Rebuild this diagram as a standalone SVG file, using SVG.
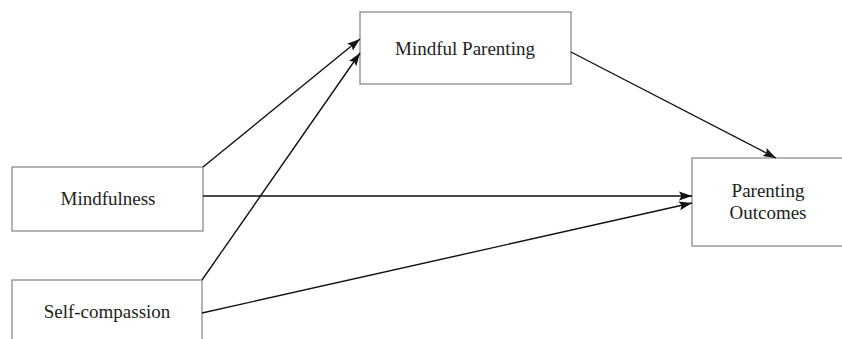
<svg xmlns="http://www.w3.org/2000/svg" width="842" height="339" viewBox="0 0 842 339">
<style>
.box{fill:#fff;stroke:#9a9a9a;stroke-width:1.5}
.lbl{font-family:"Liberation Serif","Times New Roman",serif;font-size:19px;fill:#222;text-anchor:middle}
.edge{stroke:#111;stroke-width:1.4;fill:none;marker-end:url(#ah)}
</style>
<defs>
<marker id="ah" markerUnits="userSpaceOnUse" markerWidth="14" markerHeight="10" refX="13" refY="5" orient="auto">
<path d="M0,0.5 L13,5 L0,9.5 L2.5,5 Z" fill="#111"/>
</marker>
</defs>
<rect width="842" height="339" fill="#fff"/>
<g id="mindful-parenting"><rect class="box" x="360" y="12" width="211" height="72"/><text class="lbl" x="465" y="55">Mindful Parenting</text></g>
<g id="mindfulness"><rect class="box" x="12" y="167" width="191" height="64"/><text class="lbl" x="108" y="205">Mindfulness</text></g>
<g id="self-compassion"><rect class="box" x="12" y="280" width="190" height="70"/><text class="lbl" x="107" y="318">Self-compassion</text></g>
<g id="parenting-outcomes"><rect class="box" x="692" y="158" width="160" height="88"/><text class="lbl" x="768" y="197">Parenting</text><text class="lbl" x="768" y="219">Outcomes</text></g>
<g id="connectors">
<line class="edge" x1="203" y1="167" x2="360" y2="39"/>
<line class="edge" x1="202" y1="280" x2="360" y2="53"/>
<line class="edge" x1="571" y1="52" x2="776" y2="158"/>
<line class="edge" x1="203" y1="196" x2="692" y2="196"/>
<line class="edge" x1="202" y1="313" x2="692" y2="203"/>
</g>
</svg>
